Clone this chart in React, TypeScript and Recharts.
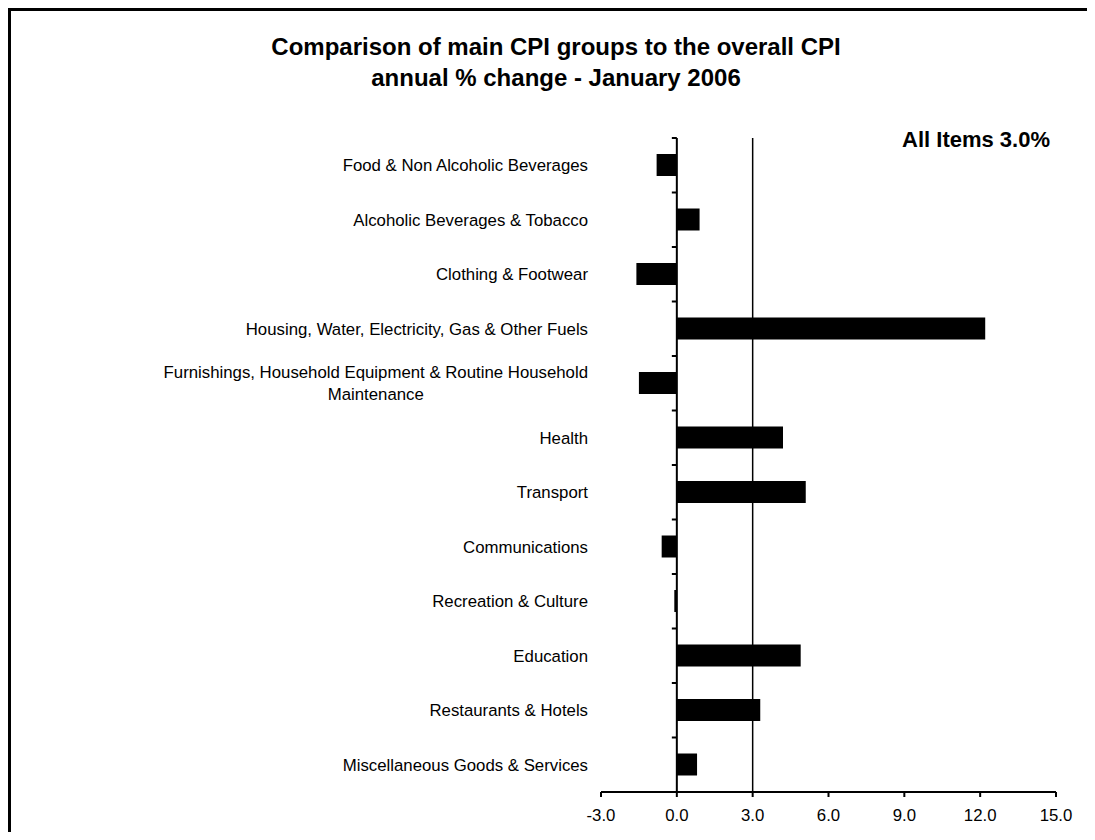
import React from 'react';
import { BarChart, Bar, XAxis, YAxis, ReferenceLine } from 'recharts';

// CPI groups, annual % change, January 2006
const categories = [
    'Food & Non Alcoholic Beverages',
    'Alcoholic Beverages & Tobacco',
    'Clothing & Footwear',
    'Housing, Water, Electricity, Gas & Other Fuels',
    'Furnishings, Household Equipment & Routine Household Maintenance',
    'Health',
    'Transport',
    'Communications',
    'Recreation & Culture',
    'Education',
    'Restaurants & Hotels',
    'Miscellaneous Goods & Services',
];
const changes = [-0.8, 0.9, -1.6, 12.2, -1.5, 4.2, 5.1, -0.6, -0.1, 4.9, 3.3, 0.8];
const xTicks = [-3, 0, 3, 6, 9, 12, 15];
const allItems = 3.0;

const data = categories.map((name, i) => ({ name, value: changes[i] }));

const FONT = '"Liberation Sans", Arial, Helvetica, sans-serif';
const LABEL_SIZE = 16.8;
const WRAP_WIDTH = 445;

let ctx: CanvasRenderingContext2D | null = null;
const measure = (s: string) => {
    if (!ctx) {
        ctx = document.createElement('canvas').getContext('2d');
        if (ctx) ctx.font = `${LABEL_SIZE}px ${FONT}`;
    }
    return ctx ? ctx.measureText(s).width : s.length * 8;
};

const wrapLabel = (text: string) => {
    const words = text.split(' ');
    const lines: string[] = [];
    let cur = '';
    words.forEach((w) => {
        const next = cur ? cur + ' ' + w : w;
        if (cur && measure(next) > WRAP_WIDTH) {
            lines.push(cur);
            cur = w;
        } else {
            cur = next;
        }
    });
    if (cur) lines.push(cur);
    return lines;
};

const CategoryTick = (props: any) => {
    const { x, y, payload } = props;
    const lines = wrapLabel(String(payload.value));
    const multi = lines.length > 1;
    const widest = Math.max(...lines.map(measure));
    const cx = multi ? x - widest / 2 : x;
    return (
        <text x={cx} y={y} textAnchor={multi ? 'middle' : 'end'} fontSize={LABEL_SIZE} fontFamily={FONT} fill="#000">
            {lines.map((l, i) => (
                <tspan key={i} x={cx} dy={i === 0 ? -(lines.length - 1) * 11 + 6 : 22}>
                    {l}
                </tspan>
            ))}
        </text>
    );
};

// zero line acting as the category axis, with ticks between groups
const ZeroAxis = (props: any) => {
    const { x1, y1, y2 } = props;
    const top = Math.min(y1, y2);
    const bottom = Math.max(y1, y2);
    const step = (bottom - top) / categories.length;
    const marks = Array.from({ length: categories.length }, (_, i) => top + i * step);
    return (
        <g>
            <line x1={x1} y1={top} x2={x1} y2={bottom} stroke="#000" strokeWidth={2} />
            {marks.map((my, i) => (
                <line key={i} x1={x1 - 5} y1={my} x2={x1} y2={my} stroke="#000" strokeWidth={2} />
            ))}
        </g>
    );
};

const W = 1081;
const H = 821;

const App: React.FC = () => {
    return (
        <div
            style={{
                position: 'relative',
                width: 1087,
                height: 824,
                boxSizing: 'border-box',
                borderTop: '3px solid #000',
                borderLeft: '3px solid #000',
                borderRight: '3px solid #000',
                background: '#fff',
            }}
        >
            <BarChart
                width={W}
                height={H}
                data={data}
                layout="vertical"
                margin={{ top: 127, right: 36, left: 0, bottom: 10 }}
            >
                <XAxis
                    type="number"
                    domain={[-3, 15]}
                    ticks={xTicks}
                    allowDataOverflow
                    height={30}
                    tickFormatter={(v: number) => v.toFixed(1)}
                    axisLine={{ stroke: '#000', strokeWidth: 2 }}
                    tickLine={{ stroke: '#000', strokeWidth: 2 }}
                    tickSize={5}
                    tickMargin={12}
                    tick={{ fill: '#000', fontSize: LABEL_SIZE, fontFamily: FONT }}
                />
                <YAxis
                    type="category"
                    dataKey="name"
                    width={590}
                    interval={0}
                    axisLine={false}
                    tickLine={false}
                    tickSize={0}
                    tickMargin={13}
                    tick={<CategoryTick />}
                />
                <Bar dataKey="value" fill="#000" barSize={22} isAnimationActive={false} />
                <ReferenceLine x={0} shape={<ZeroAxis />} />
                <ReferenceLine x={allItems} stroke="#000" strokeWidth={1.5} />
            </BarChart>
            <svg
                width={W}
                height={H}
                style={{ position: 'absolute', left: 0, top: 0, pointerEvents: 'none' }}
            >
                <text x={545} y={44} textAnchor="middle" fontFamily={FONT} fontWeight="bold" fontSize={24} fill="#000">
                    Comparison of main CPI groups to the overall CPI
                </text>
                <text x={545} y={75} textAnchor="middle" fontFamily={FONT} fontWeight="bold" fontSize={24} fill="#000">
                    annual % change - January 2006
                </text>
                <text x={1039} y={136} textAnchor="end" fontFamily={FONT} fontWeight="bold" fontSize={22} fill="#000">
                    {`All Items ${allItems.toFixed(1)}%`}
                </text>
            </svg>
        </div>
    );
};

export default App;
